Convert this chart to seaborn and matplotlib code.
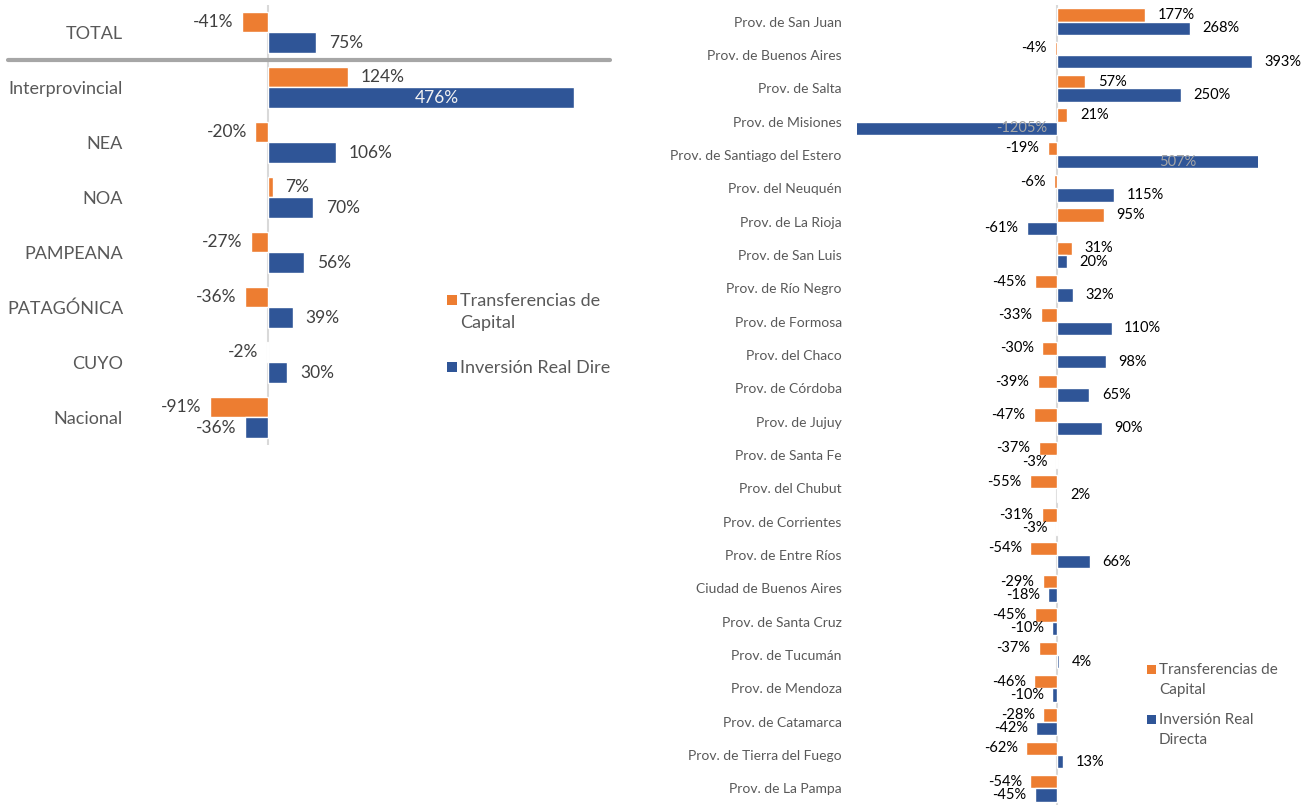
import pandas as pd
import numpy as np
import matplotlib.pyplot as plt
import seaborn as sns
from matplotlib.patches import Rectangle
from matplotlib.lines import Line2D
from matplotlib.transforms import Bbox

# ---- datos ----
SERIES = ['Transferencias de Capital', 'Inversión Real Directa']
COLORES = ['#ED7D31', '#2F5597']

regiones = ['TOTAL', 'Interprovincial', 'NEA', 'NOA', 'PAMPEANA', 'PATAGÓNICA', 'CUYO', 'Nacional']
reg_transf = [-41, 124, -20, 7, -27, -36, -2, -91]
reg_inv = [75, 476, 106, 70, 56, 39, 30, -36]

provincias = ['Prov. de San Juan', 'Prov. de Buenos Aires', 'Prov. de Salta', 'Prov. de Misiones',
              'Prov. de Santiago del Estero', 'Prov. del Neuquén', 'Prov. de La Rioja', 'Prov. de San Luis',
              'Prov. de Río Negro', 'Prov. de Formosa', 'Prov. del Chaco', 'Prov. de Córdoba',
              'Prov. de Jujuy', 'Prov. de Santa Fe', 'Prov. del Chubut', 'Prov. de Corrientes',
              'Prov. de Entre Ríos', 'Ciudad de Buenos Aires', 'Prov. de Santa Cruz', 'Prov. de Tucumán',
              'Prov. de Mendoza', 'Prov. de Catamarca', 'Prov. de Tierra del Fuego', 'Prov. de La Pampa']
prov_transf = [177, -4, 57, 21, -19, -6, 95, 31, -45, -33, -30, -39, -47, -37, -55, -31, -54, -29,
               -45, -37, -46, -28, -62, -54]
prov_inv = [268, 393, 250, -1205, 507, 115, -61, 20, 32, 110, 98, 65, 90, -3, 2, -3, 66, -18,
            -10, 4, -10, -42, 13, -45]

leyenda_izq = ['Transferencias de\nCapital', 'Inversión Real Directa']
leyenda_der = ['Transferencias de\nCapital', 'Inversión Real\nDirecta']

W, H = 1306, 805

sns.set_style('white')
plt.rcParams['font.family'] = ['Lato', 'DejaVu Sans']


def armar_df(cats, a, b):
    return pd.DataFrame({
        'cat': cats * 2,
        'serie': [SERIES[0]] * len(cats) + [SERIES[1]] * len(cats),
        'valor': a + b,
    })


def dibujar(ax, df, xlim, width, fs_cat, fs_val, col_val, pad, dentro=None):
    sns.barplot(data=df, y='cat', x='valor', hue='serie', palette=COLORES, orient='h',
                width=width, dodge=True, ax=ax, legend=False, saturation=1)
    ax.set_xlim(*xlim)
    ax.axvline(0, color='#D9D9D9', lw=1.5, zorder=0)
    ax.set_xlabel('')
    ax.set_ylabel('')
    ax.set_xticks([])
    sns.despine(ax=ax, left=True, bottom=True)
    ax.tick_params(axis='y', length=0, pad=pad, labelsize=fs_cat, labelcolor='#595959')
    for cont in ax.containers:
        for bar in cont:
            v = bar.get_width()
            yc = bar.get_y() + bar.get_height() / 2
            txt = f'{v:.0f}%'
            if v > xlim[1]:
                ax.text(xlim[1] * 0.6, yc, txt, ha='center', va='center', fontsize=fs_val, color='#A6A6A6')
            elif v < xlim[0]:
                ax.text(-20, yc, txt, ha='right', va='center', fontsize=fs_val, color='#A6A6A6')
            elif dentro is not None and v > dentro * xlim[1]:
                ax.text(v * 0.55, yc, txt, ha='center', va='center', fontsize=fs_val, color='#F2F2F2')
            elif v >= 0:
                ax.annotate(txt, (v, yc), xytext=(9, 0), textcoords='offset points',
                            ha='left', va='center', fontsize=fs_val, color=col_val)
            else:
                ax.annotate(txt, (v, yc), xytext=(-6, 0), textcoords='offset points',
                            ha='right', va='center', fontsize=fs_val, color=col_val)


def leyenda(fig, x, ys, etiquetas, fs, sq, ls, clip=None):
    # x, ys: pixel del cuadro y centro de la primera linea de cada entrada
    fpx = fs * 100 / 72
    for y, lab, c in zip(ys, etiquetas, COLORES):
        fig.add_artist(Rectangle((x / W, (H - y - sq / 2) / H), sq / W, sq / H,
                                 transform=fig.transFigure, facecolor=c, edgecolor='none'))
        t = fig.text((x + sq + 3) / W, (H - y + 0.4 * fpx) / H, lab, fontsize=fs,
                     color='#595959', va='top', ha='left', linespacing=ls)
        if clip is not None:
            t.set_clip_box(Bbox.from_extents(0, 0, clip, H))
            t.set_clip_on(True)


fig = plt.figure(figsize=(W / 100, H / 100), dpi=100)

ax1 = fig.add_axes([130 / W, (H - 445) / H, 480 / W, 440 / H])
dibujar(ax1, armar_df(regiones, reg_transf, reg_inv), (-215, 532), 0.73, 13, 12.5, '#404040', 5,
        dentro=0.85)

ax2 = fig.add_axes([857 / W, 0 / H, 401 / W, 800 / H])
dibujar(ax2, armar_df(provincias, prov_transf, prov_inv), (-403, 405), 0.8, 10, 10.5, '#000000', 11)

# linea separadora bajo TOTAL
fig.add_artist(Line2D([8 / W, 610 / W], [1 - 60 / H, 1 - 60 / H], color='#A6A6A6', lw=3))

leyenda(fig, 447, [300, 367], leyenda_izq, 13, 10, 1.5, clip=610)
leyenda(fig, 1147, [669, 719], leyenda_der, 11, 9, 1.55)

fig.savefig('out.png', dpi=100)
